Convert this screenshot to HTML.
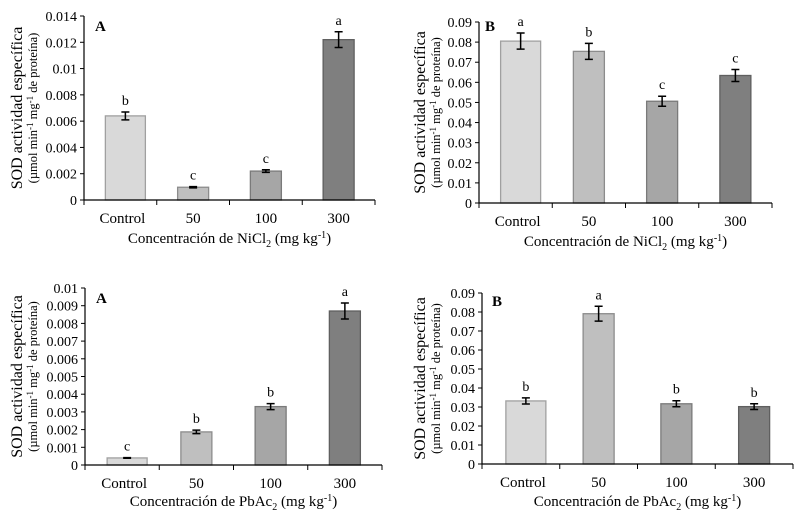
<!DOCTYPE html>
<html><head><meta charset="utf-8"><style>
body{margin:0;background:#fff;}
svg{display:block;font-family:"Liberation Serif",serif;}
</style></head><body>
<svg id="fig" width="800" height="513" viewBox="0 0 800 513"></svg>
<script>
const categories = ["Control","50","100","300"];
const letters1 = ["b","c","c","a"];
const values1 = [0.0064,0.00097,0.0022,0.0122];
const errors1 = [0.0003,0.00005,0.0001,0.0006];
const ticks1 = ["0","0.002","0.004","0.006","0.008","0.01","0.012","0.014"];
const letters2 = ["a","b","c","c"];
const values2 = [0.0805,0.0754,0.0506,0.0634];
const errors2 = [0.004,0.004,0.0025,0.003];
const ticks2 = ["0","0.01","0.02","0.03","0.04","0.05","0.06","0.07","0.08","0.09"];
const letters3 = ["c","b","b","a"];
const values3 = [0.0004,0.00187,0.0033,0.0087];
const errors3 = [0.00002,0.0001,0.00017,0.00045];
const ticks3 = ["0","0.001","0.002","0.003","0.004","0.005","0.006","0.007","0.008","0.009","0.01"];
const letters4 = ["b","a","b","b"];
const values4 = [0.0332,0.0791,0.0317,0.0302];
const errors4 = [0.0016,0.0039,0.0016,0.0015];
const ticks4 = ["0","0.01","0.02","0.03","0.04","0.05","0.06","0.07","0.08","0.09"];

const NS="http://www.w3.org/2000/svg";
const svg=document.getElementById('fig');
const fills=["#d9d9d9","#bfbfbf","#a6a6a6","#7f7f7f"];
const strokes=["#a0a0a0","#8c8c8c","#7a7a7a","#5f5f5f"];
function mk(tag,attrs,parent){const e=document.createElementNS(NS,tag);for(const k in attrs)e.setAttribute(k,attrs[k]);(parent||svg).appendChild(e);return e;}

function chart(cfg,vals,errs,lets,ticks,id){
  const g=mk('g',{});
  
  
  const max=parseFloat(ticks[ticks.length-1]);
  const y=v=>cfg.y0-(v/max)*(cfg.y0-cfg.yTop);
  const band=(cfg.x1-cfg.x0)/categories.length;
  const xc=i=>cfg.x0+(i+0.5)*band;
  ticks.forEach(t=>{
    const v=parseFloat(t),yy=y(v);
    const tk=mk('line',{x1:cfg.x0-4,x2:cfg.x0,y1:yy,y2:yy,stroke:"#000","stroke-width":1},g);
    
    
    const tl=mk('text',{x:cfg.x0-7,y:yy+5,"text-anchor":"end","font-size":14},g);
    tl.textContent=t;
    
    
  });
  categories.forEach((c,i)=>{
    const w=i===0?40:31, cx=xc(i)+(i===0?5:0);
    const b=mk('rect',{x:cx-w/2,y:y(vals[i]),width:w,height:cfg.y0-y(vals[i]),fill:fills[i],stroke:strokes[i],"stroke-width":1.3},g);
    
    
    const hi=y(vals[i]+errs[i]),lo=y(vals[i]-errs[i]);
    const e=mk('path',{d:`M${cx},${hi}V${lo}M${cx-4},${hi}H${cx+4}M${cx-4},${lo}H${cx+4}`,stroke:"#000","stroke-width":1.5,fill:"none"},g);
    
    
    const l=mk('text',{x:cx,y:hi-7,"text-anchor":"middle","font-size":14},g);
    l.textContent=lets[i];
    
    
    const xl=mk('text',{x:xc(i)+(i===0?2:0),y:cfg.y0+23,"text-anchor":"middle","font-size":15},g);
    xl.textContent=c;
    
    
  });
  for(let i=0;i<=categories.length;i++){
    const xx=cfg.x0+i*band;
    const t=mk('line',{x1:xx,x2:xx,y1:cfg.y0,y2:cfg.y0+5,stroke:"#000","stroke-width":1},g);
    
    
  }
  const ax=mk('path',{d:`M${cfg.x0},${cfg.yTop}V${cfg.y0}H${cfg.x1}`,stroke:"#000","stroke-width":1.2,fill:"none"},g);
  
  
  const pl=mk('text',{x:cfg.lx,y:cfg.ly,"font-size":15,"font-weight":"bold"},g);
  pl.textContent=cfg.letter;
  
  
  const cy=(cfg.y0+cfg.yTop)/2;
  const t1=mk('text',{x:0,y:0,"text-anchor":"middle","font-size":16,transform:`translate(${cfg.tx},${cy}) rotate(-90)`},g);
  t1.textContent="SOD actividad específica";
  
  
  const t2=mk('text',{x:0,y:0,"text-anchor":"middle","font-size":12.5,transform:`translate(${cfg.tx+15},${cy}) rotate(-90)`},g);
  t2.innerHTML='(µmol min<tspan dy="-4" font-size="9">-1</tspan><tspan dy="4"> mg</tspan><tspan dy="-4" font-size="9">-1</tspan><tspan dy="4"> de proteína)</tspan>';
  
  
  const xt=mk('text',{x:(cfg.x0+cfg.x1)/2,y:cfg.xty,"text-anchor":"middle","font-size":15},g);
  xt.innerHTML=`Concentración de ${cfg.salt}<tspan dy="4" font-size="10">2</tspan><tspan dy="-4"> (mg kg</tspan><tspan dy="-5" font-size="10">-1</tspan><tspan dy="5">)</tspan>`;
  
  
}
chart({x0:84,x1:375,y0:200,yTop:16,lx:95,ly:31,letter:"A",tx:22,xty:243,salt:"NiCl"},values1,errors1,letters1,ticks1,"nicl2-a");
chart({x0:479,x1:772,y0:203,yTop:22,lx:485,ly:31,letter:"B",tx:425,xty:246,salt:"NiCl"},values2,errors2,letters2,ticks2,"nicl2-b");
chart({x0:85,x1:382,y0:465,yTop:288,lx:96,ly:303,letter:"A",tx:22,xty:506,salt:"PbAc"},values3,errors3,letters3,ticks3,"pbac2-a");
chart({x0:482,x1:793,y0:464,yTop:293,lx:492,ly:306,letter:"B",tx:425,xty:506,salt:"PbAc"},values4,errors4,letters4,ticks4,"pbac2-b");
</script>
</body></html>
